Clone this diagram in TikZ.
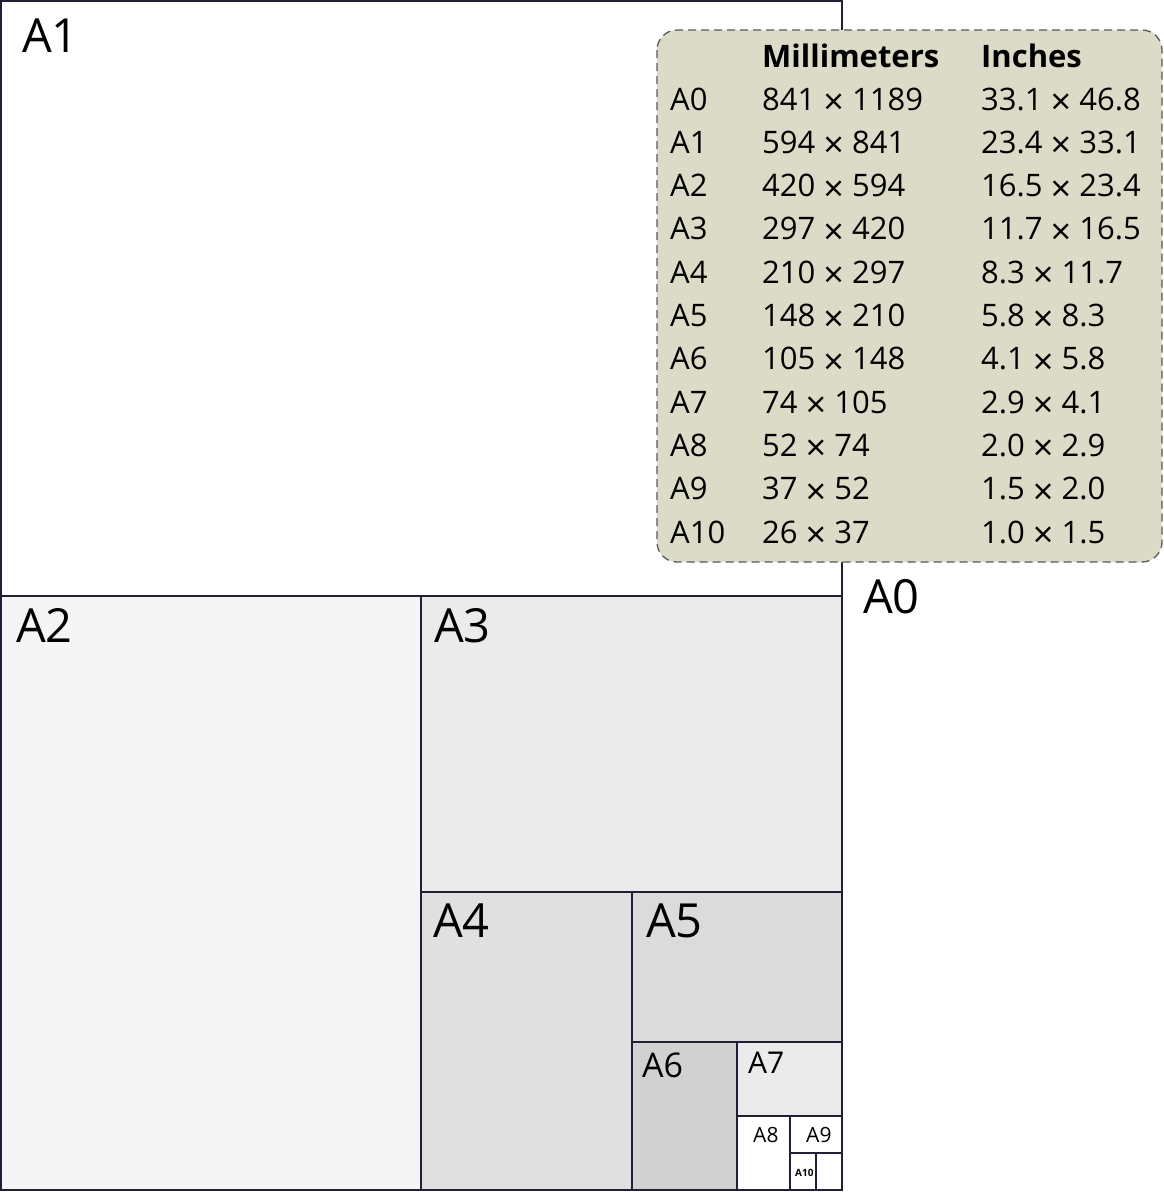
\documentclass[tikz,border=0pt]{standalone}
\usepackage{fontspec}
\setmainfont{Open Sans}
\definecolor{edge}{HTML}{1F2035}
\definecolor{tablefill}{HTML}{DBDBC8}
\newcommand{\by}{{\fontsize{36}{36}\selectfont\raisebox{-4.5pt}{×}}}
\tikzset{
  sheet/.style={draw=edge, line width=2.4pt},
  sizelabel/.style={anchor=base west, inner sep=0pt, font=\fontsize{#1}{#1}\selectfont},
  cell/.style={anchor=base west, inner sep=0pt, font=\fontsize{31}{36}\selectfont}
}
\begin{document}
\begin{tikzpicture}[x=1pt, y=-1pt]
            \useasboundingbox (0, 0) rectangle (1164, 1192);
            % sheets, largest first
            \draw[sheet, fill=white] (1.2, 1.2) rectangle (842, 1190);
            \draw[sheet] (1, 596) -- (842, 596);
            \draw[sheet, fill=black!4] (1.2, 596) rectangle (421, 1190);
            \draw[sheet, fill=black!8] (421, 596) rectangle (842, 892);
            \draw[sheet, fill=black!12] (421, 892) rectangle (632, 1190);
            \draw[sheet, fill=black!14] (632, 892) rectangle (842, 1042);
            \draw[sheet, fill=black!18] (632, 1042) rectangle (737, 1190);
            \draw[sheet, fill=black!8] (737, 1042) rectangle (842, 1116);
            \draw[sheet, fill=white] (737, 1116) rectangle (790, 1190);
            \draw[sheet, fill=white] (790, 1116) rectangle (842, 1153);
            \draw[sheet, fill=white] (790, 1153) rectangle (816, 1190);
            \draw[sheet, fill=white] (816, 1153) rectangle (842, 1190);
            % size labels
            \node[sizelabel=47] (lA1) at (22, 52) {A1};
            \node[sizelabel=47] (lA0) at (863, 613) {A0};
            \node[sizelabel=47] (lA2) at (16, 642) {A2};
            \node[sizelabel=47] (lA3) at (434, 642) {A3};
            \node[sizelabel=47] (lA4) at (433, 937) {A4};
            \node[sizelabel=47] (lA5) at (646, 937) {A5};
            \node[sizelabel=34] (lA6) at (642, 1077) {A6};
            \node[sizelabel=30] (lA7) at (748, 1073) {A7};
            \node[sizelabel=21] (lA8) at (753, 1142) {A8};
            \node[sizelabel=21] (lA9) at (806, 1142) {A9};
            \node[sizelabel=10] (lA10) at (795, 1176) {\bfseries A10};
            % table of sizes
            \draw[draw=black!65, line width=1.3pt, dash pattern=on 8pt off 5pt,
                  rounded corners=20pt, fill=tablefill] (657, 30) rectangle (1162, 562);
            \node[cell] (hmm) at (762, 67) {\bfseries Millimeters};
            \node[cell] (hin) at (981, 67) {\bfseries Inches};
            \foreach \name/\mm/\inch [count=\i from 0] in {
                A0/841 \by{} 1189/33.1 \by{} 46.8, A1/594 \by{} 841/23.4 \by{} 33.1,
                A2/420 \by{} 594/16.5 \by{} 23.4, A3/297 \by{} 420/11.7 \by{} 16.5,
                A4/210 \by{} 297/8.3 \by{} 11.7, A5/148 \by{} 210/5.8 \by{} 8.3,
                A6/105 \by{} 148/4.1 \by{} 5.8, A7/74 \by{} 105/2.9 \by{} 4.1,
                A8/52 \by{} 74/2.0 \by{} 2.9, A9/37 \by{} 52/1.5 \by{} 2.0,
                A10/26 \by{} 37/1.0 \by{} 1.5} {
              \node[cell] (name\i) at (670, 110 + 43.3*\i) {\name};
              \node[cell] (mm\i) at (762, 110 + 43.3*\i) {\mm};
              \node[cell] (in\i) at (981, 110 + 43.3*\i) {\inch};
            }
        \end{tikzpicture}
\end{document}
